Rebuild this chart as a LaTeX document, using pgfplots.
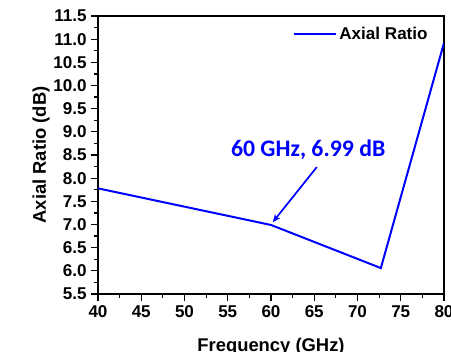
\documentclass[border=0pt]{standalone}
\usepackage{pgfplots}
\pgfplotsset{compat=1.18}
\usetikzlibrary{arrows.meta}
\usepackage{fontspec}
\setmainfont{Liberation Sans}
\newfontfamily\calib{Carlito}
\begin{document}
\begin{tikzpicture}[x=0.75pt,y=0.75pt]
\begin{axis}[
  at={(0,0)}, anchor=origin,
  scale only axis,
  width=259.5pt, height=208.5pt,
  xmin=40, xmax=80, ymin=5.5, ymax=11.5,
  xtick={40,45,...,80},
  ytick={5.5,6,...,11.5},
  minor x tick num=1, minor y tick num=1,
  tick pos=left, tick align=outside,
  major tick length=5pt, minor tick length=3pt,
  axis line style={line width=1pt},
  every tick/.style={line width=0.9pt, black},
  /pgf/number format/assume math mode=true,
  ticklabel style={font=\fontsize{12.8}{14}\selectfont\bfseries},
  yticklabel style={/pgf/number format/.cd, fixed, fixed zerofill, precision=1},
  xticklabel style={/pgf/number format/.cd, fixed, precision=0},
  xlabel={Frequency (GHz)},
  ylabel={Axial Ratio (dB)},
  label style={font=\fontsize{13.8}{15}\selectfont\bfseries},
  xlabel style={yshift=-9pt},
  ylabel style={yshift=-4pt},
  legend style={draw=none, fill=none, at={(0.965,0.975)}, anchor=north east,
    font=\fontsize{12.8}{14}\selectfont\bfseries, inner sep=1pt},
  legend cell align=left,
  legend image post style={line width=1.5pt},
  legend image code/.code={\draw[#1] (0pt,0pt) -- (31pt,0pt);},
]
\addplot[blue, line width=1.5pt] coordinates {(40,7.78) (60,6.99) (72.7,6.06) (80,10.92)};
\addlegendentry{Axial Ratio}
\draw[-{Stealth[length=6pt,width=5pt]}, blue, line width=1.3pt] (axis cs:65.3,8.24) -- (axis cs:60.2,7.05);
\node[text=blue, font=\calib\fontsize{17.8}{19}\selectfont\bfseries] at (axis cs:64.3,8.61) {60 GHz, 6.99 dB};
\end{axis}
\pgfresetboundingbox
\path[use as bounding box] (-98,-57) rectangle (353,294);
\end{tikzpicture}
\end{document}
